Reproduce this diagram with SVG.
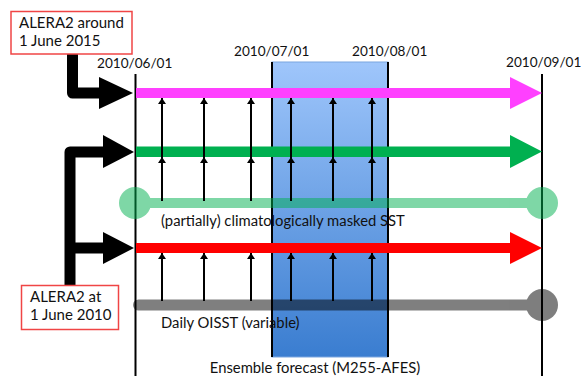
<svg xmlns="http://www.w3.org/2000/svg" width="581" height="376" viewBox="0 0 581 376">
<defs>
<linearGradient id="blue" x1="0" y1="0" x2="0" y2="1">
<stop offset="0" stop-color="#9fc6fb"/>
<stop offset="1" stop-color="#3a7dd0"/>
</linearGradient>
<marker id="sa" viewBox="0 0 6 8" refX="6" refY="4" markerWidth="6" markerHeight="8" markerUnits="userSpaceOnUse" orient="auto">
<path d="M0,0 L6,4 L0,8 Z" fill="#000"/>
</marker>
</defs>
<style>
text{font-family:Lato,"Noto Sans","DejaVu Sans",sans-serif;fill:#111;}
.lbl{font-size:14.8px;}
.date{font-size:13.6px;}
.box{fill:#fff;stroke:#f04545;stroke-width:1.5;}
.tl{stroke:#000;stroke-width:2;fill:none;}
.thick{stroke:#000;stroke-width:11;fill:none;stroke-linejoin:round;}
.sm{stroke:#000;stroke-width:2;fill:none;marker-end:url(#sa);}
</style>

<g id="forecast-box">
<rect x="272" y="62" width="116" height="295" fill="url(#blue)" stroke="#7aa6e0" stroke-width="1"/>
<line x1="272" y1="62" x2="272" y2="357" class="tl"/>
<line x1="388" y1="62" x2="388" y2="357" class="tl"/>
<text x="315" y="373" class="lbl" text-anchor="middle">Ensemble forecast (M255-AFES)</text>
</g>

<g id="timeline">
<line x1="135.5" y1="74" x2="135.5" y2="376" class="tl"/>
<line x1="542" y1="74" x2="542" y2="376" class="tl"/>
<text x="97" y="68" class="date">2010/06/01</text>
<text x="234" y="56" class="date">2010/07/01</text>
<text x="352" y="56" class="date">2010/08/01</text>
<text x="506" y="67" class="date">2010/09/01</text>
</g>

<g id="masked-sst" opacity="0.5" fill="#00b050">
<rect x="135" y="198" width="407" height="10"/>
<circle cx="135" cy="203" r="16"/>
<circle cx="542" cy="203" r="16"/>
</g>
<text x="161" y="226" class="lbl">(partially) climatologically masked SST</text>

<g id="oisst" opacity="0.5" fill="#000">
<path d="M138.5,299.5 H542 V310.5 H138.5 A5.5,5.5 0 0 1 138.5,299.5 Z"/>
<circle cx="542" cy="305" r="16"/>
</g>
<text x="161" y="328" class="lbl">Daily OISST (variable)</text>

<g id="run-2015">
<rect x="136" y="88" width="376" height="10" fill="#ff40ff"/>
<polygon points="510,77 542,93 510,109" fill="#ff40ff"/>
</g>
<g id="run-2010-masked">
<rect x="136" y="146.5" width="376" height="10.5" fill="#00b050"/>
<polygon points="510,135 542,151.5 510,168" fill="#00b050"/>
</g>
<g id="run-2010-oisst">
<rect x="136" y="243" width="376" height="10" fill="#ff0000"/>
<polygon points="510,232 542,248 510,264" fill="#ff0000"/>
</g>

<g id="connectors">
<g id="init-arrows-top">
<path class="sm" d="M162,201 V98"/><path class="sm" d="M162,201 V157"/>
<path class="sm" d="M204,201 V98"/><path class="sm" d="M204,201 V157"/>
<path class="sm" d="M251,201 V98"/><path class="sm" d="M251,201 V157"/>
<path class="sm" d="M291,201 V98"/><path class="sm" d="M291,201 V157"/>
<path class="sm" d="M333,201 V98"/><path class="sm" d="M333,201 V157"/>
<path class="sm" d="M372,201 V98"/><path class="sm" d="M372,201 V157"/>
</g>
<g id="init-arrows-bottom">
<path class="sm" d="M162,301 V253"/>
<path class="sm" d="M204,301 V253"/>
<path class="sm" d="M251,301 V253"/>
<path class="sm" d="M291,301 V253"/>
<path class="sm" d="M333,301 V253"/>
<path class="sm" d="M372,301 V253"/>
</g>
<path class="thick" d="M72.5,54 V93 H104"/>
<polygon points="99,77 133,93 99,109" fill="#000"/>
<path class="thick" d="M70,286 V152 H106"/>
<path class="thick" d="M70,248 H106"/>
<polygon points="103,135 134,152 103,168" fill="#000"/>
<polygon points="103,232 134,248 103,264" fill="#000"/>
</g>

<g id="alera2-2015">
<rect x="11" y="11.5" width="121" height="42.5" class="box"/>
<text x="19" y="28" font-size="15">ALERA2 around</text>
<text x="19" y="46" font-size="15">1 June 2015</text>
</g>
<g id="alera2-2010">
<rect x="21.5" y="285.5" width="97" height="44" class="box"/>
<text x="30" y="302" font-size="15">ALERA2 at</text>
<text x="30" y="320" font-size="15">1 June 2010</text>
</g>
</svg>
